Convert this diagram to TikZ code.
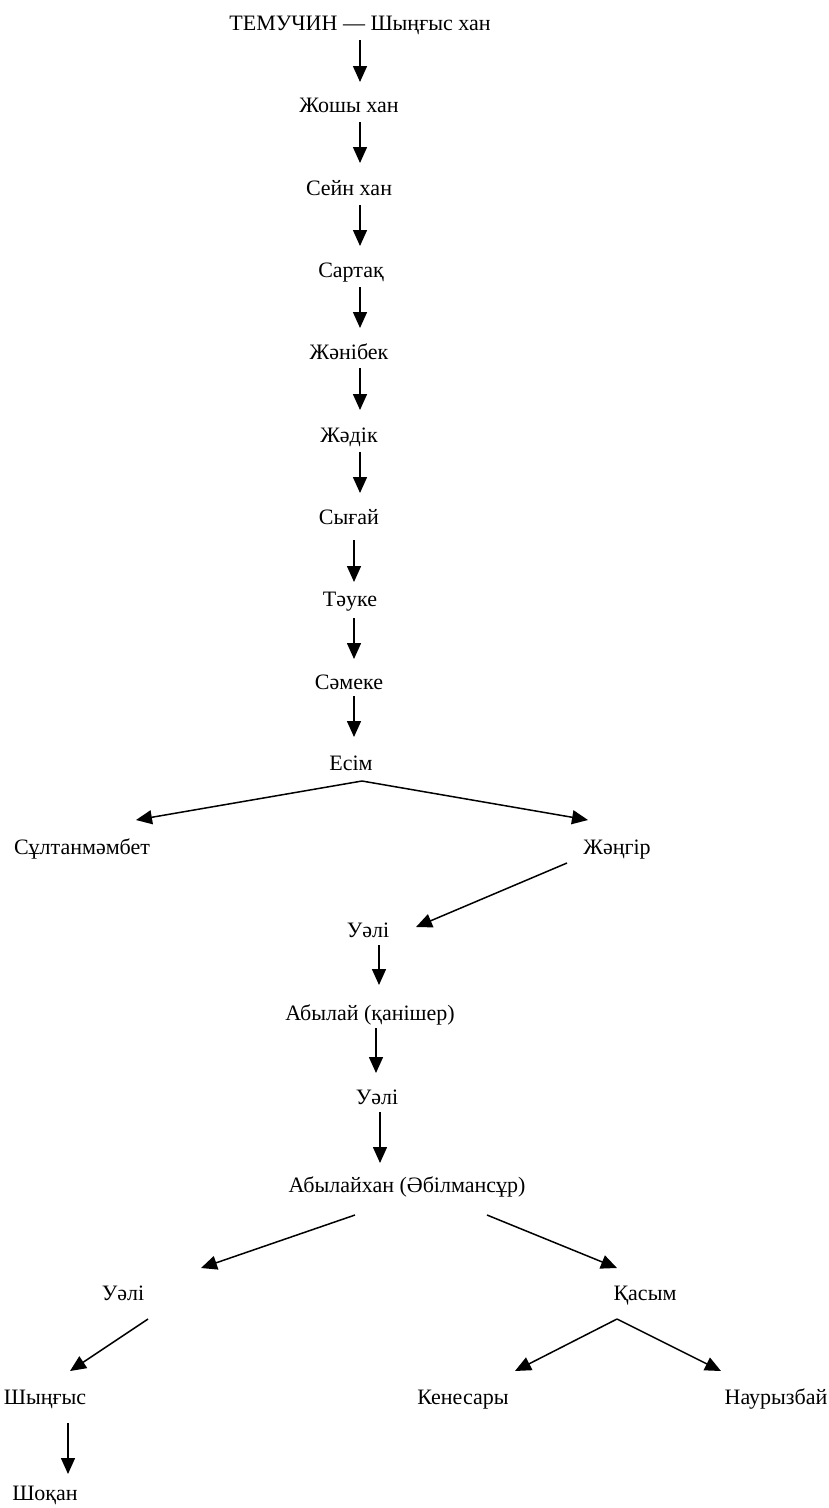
\documentclass[tikz,border=0pt]{standalone}
\usepackage{fontspec}
\setmainfont{Liberation Serif}
\usetikzlibrary{arrows.meta}
\begin{document}
\begin{tikzpicture}[x=1pt,y=-1pt,
  lbl/.style={inner sep=0pt, anchor=base, font=\fontsize{22}{26}\selectfont},
  arr/.style={-{Triangle[length=16pt,width=14pt]}, line width=1.5pt}]
\useasboundingbox (0,0) rectangle (829,1508);
% names
\node[lbl] (t0)  at (360,30)  {ТЕМУЧИН — Шыңғыс хан};
\node[lbl] (t1)  at (349,112) {Жошы хан};
\node[lbl] (t2)  at (349,195) {Сейн хан};
\node[lbl] (t3)  at (351,277) {Сартақ};
\node[lbl] (t4)  at (349,359) {Жәнібек};
\node[lbl] (t5)  at (349,442) {Жәдік};
\node[lbl] (t6)  at (349,524) {Сығай};
\node[lbl] (t7)  at (350,606) {Тәуке};
\node[lbl] (t8)  at (349,689) {Сәмеке};
\node[lbl] (t9)  at (351,770) {Есім};
\node[lbl] (t10) at (82,854)  {Сұлтанмәмбет};
\node[lbl] (t11) at (617,854) {Жәңгір};
\node[lbl] (t12) at (368,937) {Уәлі};
\node[lbl] (t13) at (370,1020) {Абылай (қанішер)};
\node[lbl] (t14) at (377,1104) {Уәлі};
\node[lbl] (t15) at (407,1192) {Абылайхан (Әбілмансұр)};
\node[lbl] (t16) at (123,1300) {Уәлі};
\node[lbl] (t17) at (645,1300) {Қасым};
\node[lbl] (t18) at (45,1404)  {Шыңғыс};
\node[lbl] (t19) at (463,1404) {Кенесары};
\node[lbl] (t20) at (776,1404) {Наурызбай};
\node[lbl] (t21) at (45,1500)  {Шоқан};
% arrow end points
\coordinate (a1s) at (360,40);   \coordinate (a1e) at (360,82);
\coordinate (a2s) at (360,122);  \coordinate (a2e) at (360,163);
\coordinate (a3s) at (360,205);  \coordinate (a3e) at (360,246);
\coordinate (a4s) at (360,287);  \coordinate (a4e) at (360,328);
\coordinate (a5s) at (360,368);  \coordinate (a5e) at (360,410);
\coordinate (a6s) at (360,452);  \coordinate (a6e) at (360,493);
\coordinate (a7s) at (354,540);  \coordinate (a7e) at (354,582);
\coordinate (a8s) at (354,618);  \coordinate (a8e) at (354,659);
\coordinate (a9s) at (354,696);  \coordinate (a9e) at (354,737);
\coordinate (e0)  at (362,781);
\coordinate (eL)  at (136,820);  \coordinate (eR)  at (588,820);
\coordinate (j0)  at (567,863);  \coordinate (j1)  at (416,927);
\coordinate (b1s) at (379,945);  \coordinate (b1e) at (379,985);
\coordinate (b2s) at (376,1028); \coordinate (b2e) at (376,1073);
\coordinate (b3s) at (380,1112); \coordinate (b3e) at (380,1163);
\coordinate (cLs) at (355,1215); \coordinate (cLe) at (201,1268);
\coordinate (cRs) at (487,1215); \coordinate (cRe) at (617,1268);
\coordinate (d0)  at (148,1319); \coordinate (d1)  at (70,1371);
\coordinate (k0)  at (617,1319);
\coordinate (kL)  at (515,1371); \coordinate (kR)  at (721,1371);
\coordinate (s0)  at (68,1423);  \coordinate (s1)  at (68,1474);
% connectors
\draw[arr] (a1s) -- (a1e);
\draw[arr] (a2s) -- (a2e);
\draw[arr] (a3s) -- (a3e);
\draw[arr] (a4s) -- (a4e);
\draw[arr] (a5s) -- (a5e);
\draw[arr] (a6s) -- (a6e);
\draw[arr] (a7s) -- (a7e);
\draw[arr] (a8s) -- (a8e);
\draw[arr] (a9s) -- (a9e);
\draw[arr] (e0) -- (eL);
\draw[arr] (e0) -- (eR);
\draw[arr] (j0) -- (j1);
\draw[arr] (b1s) -- (b1e);
\draw[arr] (b2s) -- (b2e);
\draw[arr] (b3s) -- (b3e);
\draw[arr] (cLs) -- (cLe);
\draw[arr] (cRs) -- (cRe);
\draw[arr] (d0) -- (d1);
\draw[arr] (k0) -- (kL);
\draw[arr] (k0) -- (kR);
\draw[arr] (s0) -- (s1);
\end{tikzpicture}
\end{document}
